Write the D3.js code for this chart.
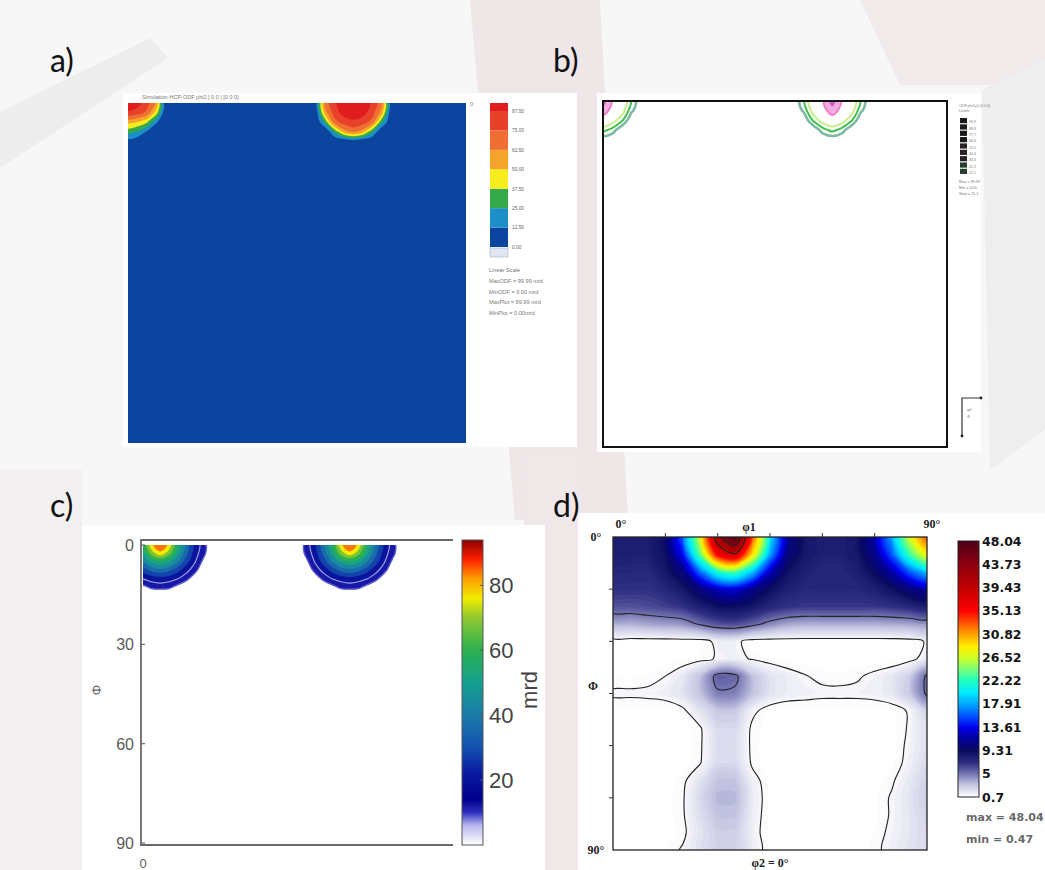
<!DOCTYPE html>
<html><head><meta charset="utf-8">
<script src="https://cdn.jsdelivr.net/npm/d3@7/dist/d3.min.js"></script>
<style>html,body{margin:0;padding:0;background:#fff;} svg{display:block;}</style>
</head><body>
<svg id="fig" width="1045" height="870"></svg>
<script>
// ================= DATA =================
const panelLabels = ['a)', 'b)', 'c)', 'd)'];
const gridStepABC = 2.5;   // degrees between grid samples (panels a, b, c)
const gridStepD = 5;       // degrees between grid samples (panel d)

// Panel a : ODF values, rows = Phi 0,2.5,5..., columns = phi1 0,2.5,...,90
const odfA = [
 [99,93,80,60,0, 0,0,0,0,0,0,0,0,0,0,0,0,0,0,0, 4,68,85,96,99,96,85,68,4, 0,0,0,0,0,0,0,0],
 [85,82,72,45,0, 0,0,0,0,0,0,0,0,0,0,0,0,0,0,0, 2,58,81,93,96,93,81,58,2, 0,0,0,0,0,0,0,0],
 [54,50,40,15,0, 0,0,0,0,0,0,0,0,0,0,0,0,0,0,0, 0,29,71,81,85,81,71,29,0, 0,0,0,0,0,0,0,0],
 [30,25,12,0,0,  0,0,0,0,0,0,0,0,0,0,0,0,0,0,0, 0,0,29,58,68,58,29,0,0,  0,0,0,0,0,0,0,0],
 [8,4,0,0,0,     0,0,0,0,0,0,0,0,0,0,0,0,0,0,0, 0,0,0,2,8,2,0,0,0,      0,0,0,0,0,0,0,0],
 [0,0,0,0,0,     0,0,0,0,0,0,0,0,0,0,0,0,0,0,0, 0,0,0,0,0,0,0,0,0,      0,0,0,0,0,0,0,0]
];
const aLevels = [12.5, 25, 37.5, 50, 62.5, 75, 87.5];
const aTitle = 'Simulation-HCP-ODF phi2 [ 0.0 ] [0 0 0]';
const aLegend = ['Linear Scale', 'MaxODF = 99.99 mrd', 'MinODF = 0.00 mrd', 'MaxPlot = 99.99 mrd', 'MinPlot = 0.00mrd'];

// Panel b
const odfB = [
 [99,55,42,18,0, 0,0,0,0,0,0,0,0,0,0,0,0,0,0,0, 0,18,42,55,99,55,42,18,0, 0,0,0,0,0,0,0,0],
 [75,48,36,12,0, 0,0,0,0,0,0,0,0,0,0,0,0,0,0,0, 0,12,36,48,75,48,36,12,0, 0,0,0,0,0,0,0,0],
 [42,36,22,0,0,  0,0,0,0,0,0,0,0,0,0,0,0,0,0,0, 0,0,22,36,42,36,22,0,0,  0,0,0,0,0,0,0,0],
 [24,16,0,0,0,   0,0,0,0,0,0,0,0,0,0,0,0,0,0,0, 0,0,0,16,24,16,0,0,0,   0,0,0,0,0,0,0,0],
 [2,0,0,0,0,     0,0,0,0,0,0,0,0,0,0,0,0,0,0,0, 0,0,0,0,2,0,0,0,0,      0,0,0,0,0,0,0,0],
 [0,0,0,0,0,     0,0,0,0,0,0,0,0,0,0,0,0,0,0,0, 0,0,0,0,0,0,0,0,0,      0,0,0,0,0,0,0,0]
];
const bLineLevels = [10, 20, 30, 60];
const bFillLevels = [60, 85];
const bLegendTop = ['ODF phi2=0 (0 0 0)', 'Levels'];
const bLegendLevels = ['99.9', '88.8', '77.7', '66.6', '55.5', '44.4', '33.3', '22.2', '11.1'];
const bLegendBottom = ['Max = 99.99', 'Min = 0.00', 'Step = 11.1'];

// Panel c
const odfC = [
 [55,78,88,78,55,38,22,12,0, 0,0,0,0,0,0,0,0,0, 0,12,22,38,55,78,88,78,55,38,22,12,0, 0,0,0,0,0,0],
 [51,68,78,68,51,35,20,11,0, 0,0,0,0,0,0,0,0,0, 0,11,20,35,51,68,78,68,51,35,20,11,0, 0,0,0,0,0,0],
 [41,51,55,51,41,28,17,6,0,  0,0,0,0,0,0,0,0,0, 0,6,17,28,41,51,55,51,41,28,17,6,0,   0,0,0,0,0,0],
 [28,35,38,35,28,19,12,0,0,  0,0,0,0,0,0,0,0,0, 0,0,12,19,28,35,38,35,28,19,12,0,0,   0,0,0,0,0,0],
 [17,20,22,20,17,12,2,0,0,   0,0,0,0,0,0,0,0,0, 0,0,2,12,17,20,22,20,17,12,2,0,0,     0,0,0,0,0,0],
 [6,11,12,11,6,0,0,0,0,      0,0,0,0,0,0,0,0,0, 0,0,0,0,6,11,12,11,6,0,0,0,0,         0,0,0,0,0,0],
 [0,0,0,0,0,0,0,0,0,         0,0,0,0,0,0,0,0,0, 0,0,0,0,0,0,0,0,0,0,0,0,0,            0,0,0,0,0,0]
];
const cLevels = [8, 16, 24, 32, 40, 48, 56, 64, 72, 80];
const cAxisTicks = [0, 30, 60, 90];
const cBarTicks = [20, 40, 60, 80];
const cBarMax = 94;

// Panel d : rows Phi 0..90 step 5, columns phi1 0..90 step 5
const odfD = [
 [8,8,8,9.2,16,27,42,48,33,20,11,8.5,8,8,8.5,12,18,27,33],
 [8,8,8,9,14,24,36,39,29,18,10.5,8.5,8,8,8.5,11,16,23,28],
 [7.5,7.5,7.5,8.5,10.5,16.5,22,23.5,19,12.5,9,8,7.5,7.5,8,9.5,12,16,19],
 [7,7,7,7.5,8.5,10.5,12.5,13,11,9.2,8,7.5,7.5,7.5,7.5,8,9,10.5,11.5],
 [6,6,6.2,6.5,7,8,9,9.2,8.5,7.5,7,6.8,6.8,6.8,6.8,6.8,7,7.5,8],
 [3.5,3.5,3.8,4,4.2,5.2,6,6.2,5.5,4.5,3.8,3.6,3.6,3.6,3.6,3.6,3.7,3.8,4],
 [0.5,0.5,0.5,0.5,0.55,0.5,1.3,1.3,0.5,0.5,0.5,0.5,0.5,0.5,0.5,0.5,0.5,0.6,1.1],
 [0.5,0.5,0.5,0.5,0.55,0.7,1.1,1.3,0.9,0.7,0.5,0.5,0.5,0.5,0.5,0.5,0.5,0.7,1.4],
 [0.6,0.6,0.7,1.0,1.6,3.0,5.6,5.4,3.0,1.8,1.4,1.05,0.8,0.75,0.9,1.2,1.6,2.6,5.3],
 [1.15,1.15,1.2,1.3,1.8,3.0,4.8,4.7,3.0,1.8,1.4,1.3,1.2,1.2,1.2,1.3,1.6,2.8,5.3],
 [0.5,0.5,0.5,0.55,0.8,1.8,2.8,2.8,1.2,0.6,0.5,0.5,0.5,0.5,0.5,0.5,0.6,1.1,2.5],
 [0.5,0.5,0.5,0.5,0.55,0.9,2.2,2.2,0.8,0.6,0.5,0.5,0.5,0.5,0.5,0.5,0.55,1.1,2.0],
 [0.5,0.5,0.5,0.5,0.5,0.9,2.0,2.0,0.8,0.5,0.5,0.5,0.5,0.5,0.5,0.5,0.55,1.2,2.0],
 [0.5,0.5,0.5,0.5,0.55,0.95,2.2,2.2,0.85,0.5,0.5,0.5,0.5,0.5,0.5,0.5,0.6,1.3,2.2],
 [0.5,0.5,0.5,0.5,0.8,1.8,3.0,3.0,1.3,0.6,0.5,0.5,0.5,0.5,0.5,0.55,0.9,1.6,2.5],
 [0.5,0.5,0.5,0.55,0.9,2.2,3.3,3.3,1.5,0.6,0.5,0.5,0.5,0.5,0.5,0.6,1.1,1.8,2.6],
 [0.5,0.5,0.5,0.55,0.9,2.0,3.0,3.0,1.4,0.6,0.5,0.5,0.5,0.5,0.5,0.6,1.1,1.7,2.4],
 [0.5,0.5,0.5,0.55,0.8,1.8,2.6,2.6,1.3,0.6,0.5,0.5,0.5,0.5,0.5,0.7,1.2,1.7,2.2],
 [0.5,0.5,0.5,0.6,1.1,1.9,2.5,2.5,1.5,0.6,0.5,0.5,0.5,0.5,0.5,0.8,1.3,1.8,2.2]
];
const dBarLabels = [48.04, 43.73, 39.43, 35.13, 30.82, 26.52, 22.22, 17.91, 13.61, 9.31, 5, 0.7];
const dLineLevels = [1, 5, 39.43, 43.73];
const dAxisTicks = [0, 15, 30, 45, 60, 75, 90];
const dStats = ['max = 48.04', 'min = 0.47'];

// ================= STYLES =================
const aBaseColor = '#0b459f';
const aLevelColors = ['#1d8ec8', '#36a94b', '#f6ec1e', '#f4a32b', '#ef6e31', '#e8412b', '#e01c1e'];
const bLineColors = ['#80b9a3', '#3fc04d', '#caf08c', '#ee80cb'];
const bFillColors = ['#f4abdf', '#c45cc6'];
const cStops  = [0, 6, 10, 14, 22, 30, 40, 50, 60, 70, 76, 82, 88, 94];
const cColors = ['#ffffff','#b8b8f0','#3030c0','#00008c','#0a1aa0','#1450b0','#1a7ca8','#14a090','#2cb050','#90c830','#f0ec00','#ffa000','#ff2000','#8b0000'];
const dStops  = [0.7, 3, 5, 7, 9.31, 11.5, 13.61, 15.8, 17.91, 20, 22.22, 24.5, 26.52, 28.5, 30.82, 33, 35.13, 39.43, 43.73, 48.04];
const dColors = ['#ffffff','#c4c4e2','#7474b2','#2e2e82','#0a0a60','#00009c','#0000f0','#0058ff','#00a8ff','#00e8ff','#20ffc0','#80ff70','#d0ff20','#ffee00','#ffa000','#ff5000','#ff0000','#c00000','#8c0010','#4c0018'];

// ================= HELPERS =================
const W = 1045, H = 870;
const svg = d3.select('#fig');
const defs = svg.append('defs');
const ringLine = d3.line().curve(d3.curveCatmullRomClosed.alpha(0.5));

function ringPath(ring, step, xs, ys) {
  const pts = ring.slice(0, ring.length - 1).map(p => [xs((p[0] - 0.5) * step), ys((p[1] - 0.5) * step)]);
  return pts.length > 2 ? ringLine(pts) : '';
}
function multiPath(mp, step, xs, ys) {
  return mp.coordinates.map(poly => poly.map(r => ringPath(r, step, xs, ys)).join('')).join('');
}
function contoursOf(grid, thresholds) {
  const ny = grid.length, nx = grid[0].length;
  return d3.contours().size([nx, ny]).thresholds(thresholds)(grid.flat());
}
function addClip(id, x0, y0, x1, y1) {
  defs.append('clipPath').attr('id', id).append('rect')
    .attr('x', x0).attr('y', y0).attr('width', x1 - x0).attr('height', y1 - y0);
}
function drawFills(g, grid, step, xs, ys, thresholds, colorOf, clipId) {
  g.append('g').attr('clip-path', `url(#${clipId})`)
    .selectAll('path').data(contoursOf(grid, thresholds)).join('path')
    .attr('d', c => multiPath(c, step, xs, ys))
    .attr('fill', c => colorOf(c.value)).attr('fill-rule', 'evenodd');
}
function drawLines(g, grid, step, xs, ys, levels, strokeOf, widthOf, clipId) {
  g.append('g').attr('clip-path', `url(#${clipId})`)
    .selectAll('path').data(contoursOf(grid, levels)).join('path')
    .attr('d', c => multiPath(c, step, xs, ys))
    .attr('fill', 'none').attr('stroke', c => strokeOf(c.value))
    .attr('stroke-width', c => widthOf(c.value)).attr('stroke-linejoin', 'round');
}
function gradient(id, stops, colors, vmin, vmax) {
  const lg = defs.append('linearGradient').attr('id', id)
    .attr('x1', 0).attr('y1', 1).attr('x2', 0).attr('y2', 0);
  stops.forEach((s, i) => lg.append('stop').attr('offset', (s - vmin) / (vmax - vmin)).attr('stop-color', colors[i]));
}

// ================= BACKGROUND =================
svg.append('rect').attr('width', W).attr('height', H).attr('fill', '#f8f7f7');
const bgShapes = [
  {pts: [[470, 0], [600, 0], [628, 520], [515, 520]], fill: '#eee6e7'},
  {pts: [[0, 112], [150, 38], [168, 58], [0, 168]], fill: '#eeeded'},
  {pts: [[860, 0], [1045, 0], [1045, 85], [900, 85]], fill: '#f1eaeb'},
  {pts: [[982, 90], [1045, 60], [1045, 430], [990, 470]], fill: '#efeeee'},
  {pts: [[0, 470], [82, 470], [82, 870], [0, 870]], fill: '#f1efef'},
  {pts: [[520, 455], [580, 455], [580, 870], [545, 870]], fill: '#efe7e8'}
];
svg.selectAll('polygon.bg').data(bgShapes).join('polygon').attr('class', 'bg')
  .attr('points', d => d.pts.map(p => p.join(',')).join(' ')).attr('fill', d => d.fill);

// panel white backgrounds
[[123, 93, 577, 447], [597, 93, 981, 452], [82, 525, 545, 870], [578, 513, 1045, 870]].forEach(r =>
  svg.append('rect').attr('x', r[0]).attr('y', r[1]).attr('width', r[2] - r[0]).attr('height', r[3] - r[1]).attr('fill', '#ffffff'));

// panel labels
const labelPos = [[50, 72], [553, 72], [50, 517], [553, 517]];
svg.selectAll('text.plabel').data(panelLabels).join('text').attr('class', 'plabel')
  .attr('x', (d, i) => labelPos[i][0]).attr('y', (d, i) => labelPos[i][1])
  .attr('font-family', 'Lato, "Open Sans", sans-serif').attr('font-size', 32).attr('fill', '#111')
  .text(d => d);

// ================= PANEL A =================
{
  const g = svg.append('g');
  const xs = d3.scaleLinear().domain([0, 90]).range([128, 466]);
  const ys = d3.scaleLinear().domain([0, 90]).range([103, 443]);
  addClip('clipA', 128, 103, 466, 443);
  g.append('rect').attr('x', 128).attr('y', 103).attr('width', 338).attr('height', 340).attr('fill', aBaseColor);
  const colA = d3.scaleThreshold().domain(aLevels.slice(1)).range(aLevelColors);
  drawFills(g, odfA, gridStepABC, xs, ys, aLevels, v => colA(v), 'clipA');
  g.append('text').attr('x', 142).attr('y', 99).attr('font-family', 'Liberation Sans, Arial').attr('font-size', 5.5)
    .attr('fill', '#777').text(aTitle);
  g.append('text').attr('x', 470).attr('y', 106).attr('font-family', 'Liberation Sans, Arial').attr('font-size', 6)
    .attr('fill', '#888').text('0');
  // colour bar
  const by = d3.scaleLinear().domain([0, 87.5]).range([247, 111]);
  const edges = [0, ...aLevels, by.invert(103)];
  const bandColors = [aBaseColor, ...aLevelColors];
  g.selectAll('rect.abar').data(bandColors).join('rect').attr('class', 'abar')
    .attr('x', 490).attr('width', 18)
    .attr('y', (d, i) => by(edges[i + 1])).attr('height', (d, i) => by(edges[i]) - by(edges[i + 1]))
    .attr('fill', d => d);
  g.append('rect').attr('x', 490).attr('y', 248).attr('width', 18).attr('height', 9)
    .attr('fill', '#dfe5f3').attr('stroke', '#9aa').attr('stroke-width', 0.5);
  g.selectAll('text.alab').data([0, ...aLevels]).join('text').attr('class', 'alab')
    .attr('x', 512).attr('y', d => by(d) + 1.8).attr('font-family', 'Liberation Sans, Arial')
    .attr('font-size', 4.8).attr('fill', '#666').text(d => d.toFixed(2));
  g.selectAll('text.aleg').data(aLegend).join('text').attr('class', 'aleg')
    .attr('x', 489).attr('y', (d, i) => 272 + i * 10.8).attr('font-family', 'Liberation Sans, Arial')
    .attr('font-size', 5.6).attr('fill', '#777').text(d => d);
}

// ================= PANEL B =================
{
  const g = svg.append('g');
  const xs = d3.scaleLinear().domain([0, 90]).range([603, 947]);
  const ys = d3.scaleLinear().domain([0, 90]).range([101, 447]);
  addClip('clipB', 603, 101, 947, 447);
  drawFills(g, odfB, gridStepABC, xs, ys, bFillLevels, v => bFillColors[bFillLevels.indexOf(v)], 'clipB');
  drawLines(g, odfB, gridStepABC, xs, ys, bLineLevels, v => bLineColors[bLineLevels.indexOf(v)],
    v => (v === 10 ? 2.6 : 2), 'clipB');
  g.append('rect').attr('x', 603).attr('y', 101).attr('width', 344).attr('height', 346)
    .attr('fill', 'none').attr('stroke', '#111').attr('stroke-width', 2);
  // tiny legend
  g.selectAll('text.btop').data(bLegendTop).join('text').attr('class', 'btop')
    .attr('x', 959).attr('y', (d, i) => 107 + i * 5).attr('font-family', 'Liberation Sans, Arial')
    .attr('font-size', 3.6).attr('fill', '#777').text(d => d);
  const ly = d3.scaleBand().domain(bLegendLevels).range([118, 174]).paddingInner(0.18);
  g.selectAll('rect.bbar').data(bLegendLevels).join('rect').attr('class', 'bbar')
    .attr('x', 960).attr('width', 7).attr('y', d => ly(d)).attr('height', ly.bandwidth())
    .attr('fill', (d, i) => (i > 6 ? '#24402c' : i > 3 ? '#2a2024' : '#1a1a1a'));
  g.selectAll('text.blab').data(bLegendLevels).join('text').attr('class', 'blab')
    .attr('x', 969).attr('y', d => ly(d) + ly.bandwidth()).attr('font-family', 'Liberation Sans, Arial')
    .attr('font-size', 3.6).attr('fill', '#777').text(d => d);
  g.selectAll('text.bbot').data(bLegendBottom).join('text').attr('class', 'bbot')
    .attr('x', 959).attr('y', (d, i) => 183 + i * 6).attr('font-family', 'Liberation Sans, Arial')
    .attr('font-size', 3.8).attr('fill', '#777').text(d => d);
  // small axes symbol
  g.append('path').attr('d', 'M962,436 L962,398 L981,398').attr('fill', 'none').attr('stroke', '#333').attr('stroke-width', 1.2);
  g.append('circle').attr('cx', 981).attr('cy', 398).attr('r', 1.4).attr('fill', '#222');
  g.append('circle').attr('cx', 962).attr('cy', 436).attr('r', 1.4).attr('fill', '#222');
  g.append('text').attr('x', 967).attr('y', 411).attr('font-size', 4).attr('fill', '#777').attr('font-family', 'Liberation Sans, Arial').text('φ1');
  g.append('text').attr('x', 967).attr('y', 418).attr('font-size', 4).attr('fill', '#777').attr('font-family', 'Liberation Sans, Arial').text('Φ');
}

// ================= PANEL C =================
{
  const g = svg.append('g');
  const xs = d3.scaleLinear().domain([0, 90]).range([143, 453]);
  const ys = d3.scaleLinear().domain([0, 90]).range([545, 843]);
  addClip('clipC', 143, 545, 453, 843);
  const cColor = d3.scaleLinear().domain(cStops).range(cColors).clamp(true);
  drawFills(g, odfC, gridStepABC, xs, ys, cLevels, v => cColor(v + 4), 'clipC');
  drawLines(g, odfC, gridStepABC, xs, ys, [8, 16], v => (v === 8 ? '#5c5cd2' : '#a8a8ea'), v => (v === 8 ? 1.4 : 1.1), 'clipC');
  const axisCol = '#6a6a6a';
  g.append('path').attr('d', 'M453,540 L141,540 L141,845 L453,845').attr('fill', 'none')
    .attr('stroke', axisCol).attr('stroke-width', 1.8);
  g.selectAll('line.cyt').data(cAxisTicks).join('line').attr('class', 'cyt')
    .attr('x1', 141).attr('x2', 145).attr('y1', d => ys(d)).attr('y2', d => ys(d))
    .attr('stroke', axisCol).attr('stroke-width', 1.2);
  g.selectAll('text.cyl').data(cAxisTicks).join('text').attr('class', 'cyl')
    .attr('x', 134).attr('y', d => ys(d) + 6).attr('text-anchor', 'end')
    .attr('font-family', 'Liberation Sans, Arial').attr('font-size', 16).attr('fill', '#5a5a5a').text(d => d);
  g.append('text').attr('x', 143).attr('y', 868).attr('text-anchor', 'middle')
    .attr('font-family', 'Liberation Sans, Arial').attr('font-size', 13).attr('fill', '#5a5a5a').text('0');
  g.append('text').attr('transform', 'translate(101,690) rotate(-90)').attr('text-anchor', 'middle')
    .attr('font-family', 'Liberation Sans, Arial').attr('font-size', 13).attr('fill', '#666').text('Φ');
  // colour bar
  gradient('cGrad', cStops, cColors, 0, cBarMax);
  const by = d3.scaleLinear().domain([0, cBarMax]).range([845, 540]);
  g.append('rect').attr('x', 462).attr('y', 540).attr('width', 21).attr('height', 305)
    .attr('fill', 'url(#cGrad)').attr('stroke', '#555').attr('stroke-width', 1);
  g.selectAll('line.cbt').data(cBarTicks).join('line').attr('class', 'cbt')
    .attr('x1', 480).attr('x2', 483).attr('y1', d => by(d)).attr('y2', d => by(d)).attr('stroke', '#555');
  g.selectAll('text.cbl').data(cBarTicks).join('text').attr('class', 'cbl')
    .attr('x', 489).attr('y', d => by(d) + 8).attr('font-family', 'Liberation Sans, Arial')
    .attr('font-size', 22).attr('fill', '#444').text(d => d);
  g.append('text').attr('transform', 'translate(537,690) rotate(-90)').attr('text-anchor', 'middle')
    .attr('font-family', 'Liberation Sans, Arial').attr('font-size', 22).attr('fill', '#444').text('mrd');
}

// ================= PANEL D =================
{
  const g = svg.append('g');
  const xs = d3.scaleLinear().domain([0, 90]).range([613, 927]);
  const ys = d3.scaleLinear().domain([0, 90]).range([537, 850]);
  addClip('clipD', 613, 537, 927, 850);
  const dColor = d3.scaleLinear().domain(dStops).range(dColors).clamp(true);
  const thr = [...d3.range(0.7, 10, 0.25), ...d3.range(10, 48.2, 0.5)];
  drawFills(g, odfD, gridStepD, xs, ys, thr, v => dColor(v + 0.12), 'clipD');
  drawLines(g, odfD, gridStepD, xs, ys, dLineLevels, () => '#222', () => 1.1, 'clipD');
  g.append('rect').attr('x', 613).attr('y', 537).attr('width', 314).attr('height', 313)
    .attr('fill', 'none').attr('stroke', '#222').attr('stroke-width', 1.3);
  g.selectAll('line.dxt').data(dAxisTicks.slice(1, -1)).join('line').attr('class', 'dxt')
    .attr('x1', d => xs(d)).attr('x2', d => xs(d)).attr('y1', 537).attr('y2', 533).attr('stroke', '#333');
  g.selectAll('line.dyt').data(dAxisTicks.slice(1, -1)).join('line').attr('class', 'dyt')
    .attr('y1', d => ys(d)).attr('y2', d => ys(d)).attr('x1', 613).attr('x2', 609).attr('stroke', '#333');
  const serif = '"Liberation Serif", "Times New Roman", serif';
  const dTexts = [
    {t: '0°', x: 596, y: 541}, {t: '0°', x: 621, y: 528}, {t: 'φ1', x: 749, y: 531},
    {t: '90°', x: 932, y: 528}, {t: 'Φ', x: 593, y: 690}, {t: '90°', x: 596, y: 854},
    {t: 'φ2 = 0°', x: 770, y: 867}
  ];
  g.selectAll('text.dax').data(dTexts).join('text').attr('class', 'dax')
    .attr('x', d => d.x).attr('y', d => d.y).attr('text-anchor', 'middle')
    .attr('font-family', serif).attr('font-weight', 'bold').attr('font-size', 12).attr('fill', '#222').text(d => d.t);
  // colour bar
  gradient('dGrad', dStops, dColors, 0.7, 48.04);
  const by = d3.scaleLinear().domain([0.7, 48.04]).range([797, 541]);
  g.append('rect').attr('x', 958).attr('y', 541).attr('width', 21).attr('height', 256)
    .attr('fill', 'url(#dGrad)').attr('stroke', '#222').attr('stroke-width', 1);
  g.selectAll('text.dbl').data(dBarLabels).join('text').attr('class', 'dbl')
    .attr('x', 982).attr('y', d => by(d) + 4.5)
    .attr('font-family', '"DejaVu Sans", sans-serif').attr('font-weight', 'bold').attr('font-size', 12.5)
    .attr('fill', '#151515').text(d => d);
  g.selectAll('text.dst').data(dStats).join('text').attr('class', 'dst')
    .attr('x', 966).attr('y', (d, i) => 821 + i * 22)
    .attr('font-family', '"DejaVu Sans", sans-serif').attr('font-weight', 'bold').attr('font-size', 11)
    .attr('fill', '#444').attr('opacity', 0.8).text(d => d);
}
</script>
</body></html>
